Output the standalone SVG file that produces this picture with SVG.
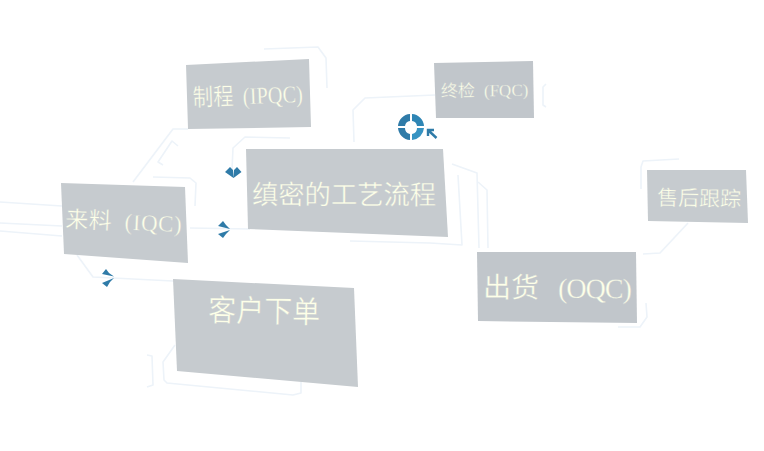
<svg xmlns="http://www.w3.org/2000/svg" width="764" height="451" viewBox="0 0 764 451">
<style>
.n{fill:#c6cbcf}
.d{fill:#c1c6cb}
.t{fill:#fdffe8;font-family:"Liberation Serif","Noto Sans CJK SC",serif;stroke:#c6cbcf;stroke-width:.35;paint-order:fill stroke}
.c{fill:none;stroke:#edf3f9;stroke-width:1.6;stroke-linejoin:round}
.a{fill:#2f7ba8}
</style>
<rect width="764" height="451" fill="#fff"/>
<g id="connectors">
<path class="c" d="M0 202L62 206M0 223L62 226M0 231L62 236"/>
<path class="c" d="M133 182L173 129H188"/>
<path class="c" d="M178 146L172 141L158 162L163 165"/>
<path class="c" d="M153 177L190 178L196 183L195 206"/>
<path class="c" d="M190 228L250 229"/>
<path class="c" d="M77 255L93 277L173 281"/>
<path class="c" d="M232 170L233 148L245 137L290 138"/>
<path class="c" d="M264 49L318 47L326 58L327 88"/>
<path class="c" d="M354 142L353 110L365 98L435 95"/>
<path class="c" d="M546 84L543 87V105L546 107"/>
<path class="c" d="M350 241L430 243L462 245L458 175"/>
<path class="c" d="M452 164L477 173L479 248"/>
<path class="c" d="M478 182L487 190L488 248"/>
<path class="c" d="M643 254L660 253L688 223"/>
<path class="c" d="M679 159L643 161L641 167V189"/>
<path class="c" d="M646 303L647 317L640 327H618"/>
<path class="c" d="M175 345L163 362L164 380L167 383L293 395L301 393V382"/>
<path class="c" d="M147 355L152 356L153 385L147 387"/>
</g>
<g id="markers">
<g id="arrow-process" class="a"><path d="M225 172L230 167L233 170L233.500 178ZM241.500 172L237 167L234 170L233.500 178Z"/></g>
<g id="arrow-iqc" class="a"><path d="M218 226L223 221L226 225L230 229ZM218 234L223 238L226 234L230 230Z"/></g>
<g id="arrow-order" class="a"><path d="M102 274L106 269L109 273L114 276.500ZM102 283L107 287L110 282L114 278Z"/></g>
<g id="target">
<path class="a" d="M398 126A13 13 0 0 1 410 114L410 121A6 6 0 0 0 405 126Z"/>
<path fill="#2f86b5" d="M412 114A13 13 0 0 1 424 126L417 126A6 6 0 0 0 412 121Z"/>
<path fill="#3793c2" d="M424 128A13 13 0 0 1 412 140L412 134A6 6 0 0 0 417 128Z"/>
<path class="a" d="M410 140A13 13 0 0 1 398 128L405 128A6 6 0 0 0 410 134Z"/>
</g>
<path id="arrow-qc" d="M428 136V130H434M428.500 130.500L436.500 138" fill="none" stroke="#2f7ba8" stroke-width="2.400"/>
</g>
<g id="node-iqc"><polygon class="n" points="61,183 185,187 188,263 64,254"/><text class="t" font-size="23" letter-spacing=".6" transform="translate(65 227) rotate(2.500)">来料<tspan dx="12">(IQC)</tspan></text></g>
<g id="node-ipqc"><polygon class="n" points="186,65 309,59 311,127 188,129"/><text class="t" font-size="24" transform="translate(193 106) rotate(-2) scale(.85 1)">制程<tspan dx="11">(IPQC)</tspan></text></g>
<g id="node-process"><polygon class="n" points="246,149 443,149 448,237 248,229"/><text class="t" font-size="26.300" transform="translate(252 204)">缜密的工艺流程</text></g>
<g id="node-fqc"><polygon class="d" points="434,63 533,61 534,118 436,118"/><text class="t" font-size="17" transform="translate(441 97) rotate(-.8)">终检<tspan dx="9">(FQC)</tspan></text></g>
<g id="node-order"><polygon class="n" points="173,279 354,288 358,387 177,371"/><text class="t" font-size="28" transform="translate(208 321) rotate(1) scale(1 1.100)">客户下单</text></g>
<g id="node-oqc"><polygon class="d" points="477,252 636,252 637,323 478,321"/><text class="t" font-size="28" transform="translate(483 297) rotate(.5)">出货<tspan dx="19" letter-spacing="-1">(OQC)</tspan></text></g>
<g id="node-service"><polygon class="n" points="647,170 746,170 748,223 648,221"/><text class="t" font-size="21" transform="translate(657 205) rotate(1)">售后跟踪</text></g>
</svg>
